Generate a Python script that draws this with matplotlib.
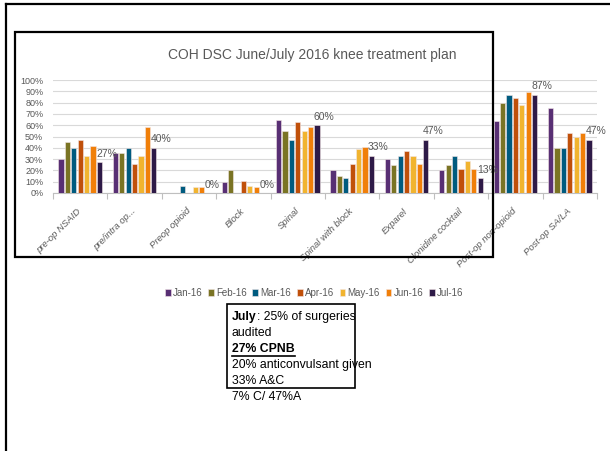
import numpy as np
import matplotlib
matplotlib.use("Agg")
import matplotlib.pyplot as plt
from matplotlib.patches import Rectangle
from matplotlib.lines import Line2D

plt.rcParams['font.family'] = ['Liberation Sans', 'DejaVu Sans']

# Data (percent of audited cases)
categories = ['pre-op NSAID', 'pre/intra op...', 'Preop opioid', 'Block', 'Spinal',
              'Spinal with block', 'Exparel', 'Clonidine cocktail',
              'Post-op non-opioid', 'Post-op SA/LA']
months = ['Jan-16', 'Feb-16', 'Mar-16', 'Apr-16', 'May-16', 'Jun-16', 'Jul-16']
jan = [30, 35, 0, 10, 65, 20, 30, 20, 64, 75]
feb = [45, 35, 0, 20, 55, 15, 25, 25, 80, 40]
mar = [40, 40, 6, 0, 47, 13, 33, 33, 87, 40]
apr = [47, 26, 0, 11, 63, 26, 37, 21, 84, 53]
may = [33, 33, 5, 6, 55, 39, 33, 28, 78, 50]
jun = [42, 58, 5, 5, 58, 41, 26, 21, 89, 53]
jul = [27, 40, 0, 0, 60, 33, 47, 13, 87, 47]
series = [jan, feb, mar, apr, may, jun, jul]
colors = ['#582F74', '#7A7424', '#005B7F', '#C0500A', '#F1B42F', '#F07F09', '#2E1A47']

note_lines = ['25% of surgeries', 'audited', '27% CPNB', '20% anticonvulsant given',
              '33% A&C', '7% C/ 47%A']

W, H = 610, 451
fig = plt.figure(figsize=(W / 100, H / 100), dpi=100)


def fx(px):
    return px / W


def fy(py):
    return 1 - py / H


ax = fig.add_axes([fx(53), fy(193), fx(597) - fx(53), fy(80) - fy(193)])

x = np.arange(len(categories))
slot = 0.82 / len(series)
for k, (vals, c) in enumerate(zip(series, colors)):
    pos = x - 0.41 + slot * (k + 0.5)
    ax.bar(pos, np.array(vals) / 100, width=slot * 0.82, color=c,
           edgecolor='#f3e6e6', linewidth=0.4, zorder=3, label=months[k])

# Jul data labels
for i, v in enumerate(jul):
    xp = x[i] - 0.41 + slot * 6.0
    ax.text(xp, v / 100 + 0.075, f'{v}%', ha='left', va='center',
            fontsize=7.5, color='#595959', zorder=4)

ax.set_xlim(-0.5, len(categories) - 0.5)
ax.set_ylim(0, 1)
ax.set_yticks(np.arange(0, 1.01, 0.1))
ax.set_yticklabels([f'{int(t)}%' for t in np.arange(0, 101, 10)])
ax.yaxis.grid(True, color='#D9D9D9', linewidth=0.8, zorder=0)
ax.tick_params(axis='y', length=0, pad=7, labelsize=6.5, labelcolor='#595959')

ax.set_xticks(x)
ax.set_xticklabels(categories, rotation=45, ha='right', va='center',
                   rotation_mode='anchor', fontsize=6.8, color='#595959',
                   style='italic')
ax.set_xticks(np.arange(-0.5, len(categories)), minor=True)
ax.tick_params(axis='x', which='major', length=0, pad=12)
ax.tick_params(axis='x', which='minor', length=4, color='#BFBFBF', width=0.8)
for s in ['top', 'right', 'left']:
    ax.spines[s].set_visible(False)
ax.spines['bottom'].set_color('#BFBFBF')
ax.spines['bottom'].set_linewidth(0.8)
ax.set_facecolor('none')

fig.text(fx(312), fy(55), 'COH DSC June/July 2016 knee treatment plan',
         ha='center', va='center', fontsize=10, color='#595959')

fig.legend(loc='center', bbox_to_anchor=(fx(314), fy(293)), ncol=7, frameon=False,
           fontsize=7, handlelength=0.6, handleheight=0.6, handletextpad=0.2,
           columnspacing=0.6, labelcolor='#595959', borderpad=0)

# frames
fig.add_artist(Line2D([fx(6), fx(6)], [fy(4), fy(451)], color='black', lw=1.6))
fig.add_artist(Line2D([fx(6), fx(610)], [fy(4), fy(4)], color='black', lw=1.6))
fig.add_artist(Rectangle((fx(15), fy(257)), fx(493) - fx(15), fy(32) - fy(257),
                         fill=False, edgecolor='black', lw=1.6))
fig.add_artist(Rectangle((fx(227), fy(388)), fx(355) - fx(227), fy(304) - fy(388),
                         fill=False, edgecolor='black', lw=1.2))

# note box text
tx = fx(232)
line_y = [317, 333, 349, 365, 381, 397]
fs = 8.8
fig.canvas.draw()
r = fig.canvas.get_renderer()
t0 = fig.text(tx, fy(line_y[0]), 'July', fontsize=fs, fontweight='bold', va='center')
bb = t0.get_window_extent(r)
fig.text(bb.x1 / W, fy(line_y[0]), ': ' + note_lines[0], fontsize=fs, va='center')
fig.text(tx, fy(line_y[1]), note_lines[1], fontsize=fs, va='center')
t2 = fig.text(tx, fy(line_y[2]), note_lines[2], fontsize=fs, fontweight='bold', va='center')
bb2 = t2.get_window_extent(r)
fig.add_artist(Line2D([bb2.x0 / W, bb2.x1 / W], [fy(line_y[2] + 7), fy(line_y[2] + 7)],
                      color='black', lw=1.2))
for ln, yy in zip(note_lines[3:], line_y[3:]):
    fig.text(tx, fy(yy), ln, fontsize=fs, va='center')

fig.savefig('out.png', dpi=100)
